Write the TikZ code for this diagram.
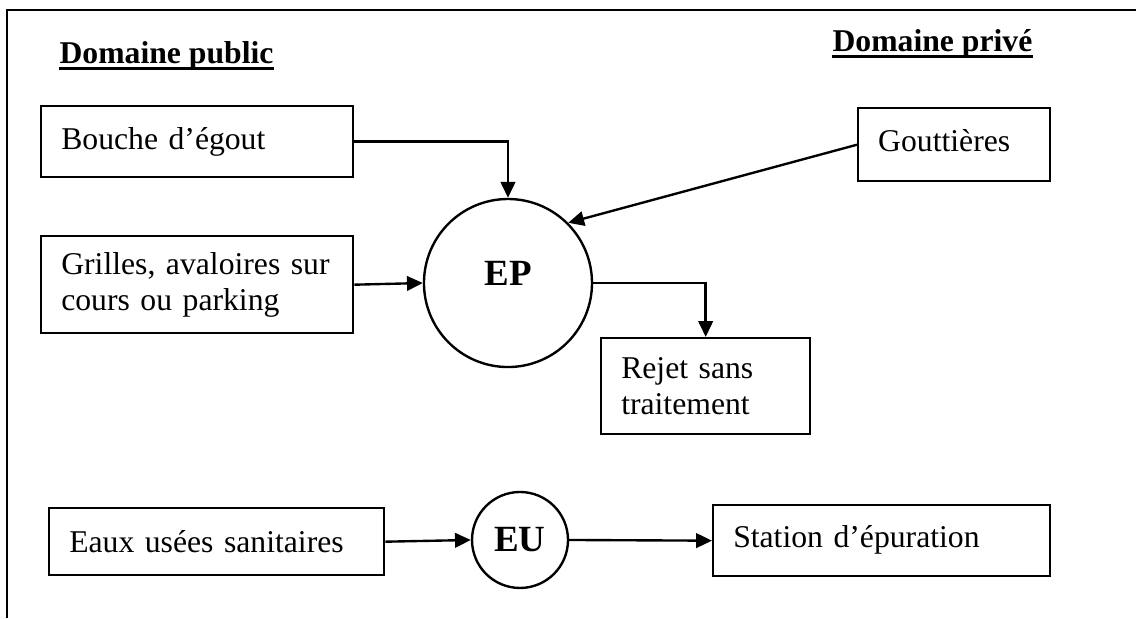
\documentclass[tikz,border=0pt]{standalone}
\usepackage{fontspec}
\setmainfont{Liberation Serif}
\usetikzlibrary{positioning}
\usetikzlibrary{arrows.meta}

\begin{document}
\begin{tikzpicture}[
        font=\fontsize{12}{13.8}\selectfont,
        box/.style={draw, line width=0.9pt, anchor=north west, align=left, inner xsep=7.6pt, inner ysep=0pt},
        pool/.style={draw, circle, line width=0.9pt, inner sep=0pt, font=\fontsize{14}{16}\selectfont\bfseries},
        flow/.style={-{Triangle[length=6pt,width=5.5pt]}, line width=0.9pt},
        title/.style={anchor=base, inner sep=0pt, font=\fontsize{12}{13.8}\selectfont\bfseries}
    ]
        \useasboundingbox (0,0) rectangle (15.124,-8.228);
        \draw[line width=0.9pt] (0.093,-8.228) -- (0.093,-0.133) -- (15.124,-0.133);

        % nodes %
        \node[title] (pub) at (2.217,-0.852) {Domaine public};
        \node[title] (priv) at (12.414,-0.692) {Domaine privé};

        \node[box, text width=3.62cm, minimum height=0.945cm] (bouche) at (0.533,-1.398) {Bouche d’égout};
        \node[box, text width=3.62cm, minimum height=1.291cm] (grilles) at (0.533,-3.129) {Grilles, avaloires sur\\cours ou parking};
        \node[box, text width=2.022cm, minimum height=0.972cm, text depth=3pt] (gout) at (11.409,-1.425) {Gouttières};
        \node[pool, minimum size=2.237cm, text depth=7.6pt] (ep) at (6.763,-3.768) {EP};
        \node[box, text width=2.248cm, minimum height=1.278cm] (rejet) at (7.988,-4.486) {Rejet sans\\traitement};

        \node[box, text width=3.926cm, minimum height=0.892cm] (eaux) at (0.639,-6.750) {Eaux usées sanitaires};
        \node[pool, minimum size=1.278cm] (eu) at (6.923,-7.189) {EU};
        \node[box, text width=3.953cm, minimum height=0.945cm, text depth=3pt] (station) at (9.479,-6.710) {Station d’épuration};

        % underlines %
        \draw[line width=1.1pt] ([yshift=-1.85pt]pub.base west) -- ([yshift=-1.85pt]pub.base east);
        \draw[line width=1.1pt] ([yshift=-1.85pt]priv.base west) -- ([yshift=-1.85pt]priv.base east);

        % edges %
        \draw[flow] (bouche.east) -| (ep.north);
        \draw[flow] (gout.west) -- (ep.45);
        \draw[flow] (grilles.east) -- (ep.west);
        \draw[flow] (ep.east) -| (rejet.north);
        \draw[flow] (eaux.east) -- (eu.west);
        \draw[flow] (eu.east) -- (station.west);
\end{tikzpicture}
\end{document}
